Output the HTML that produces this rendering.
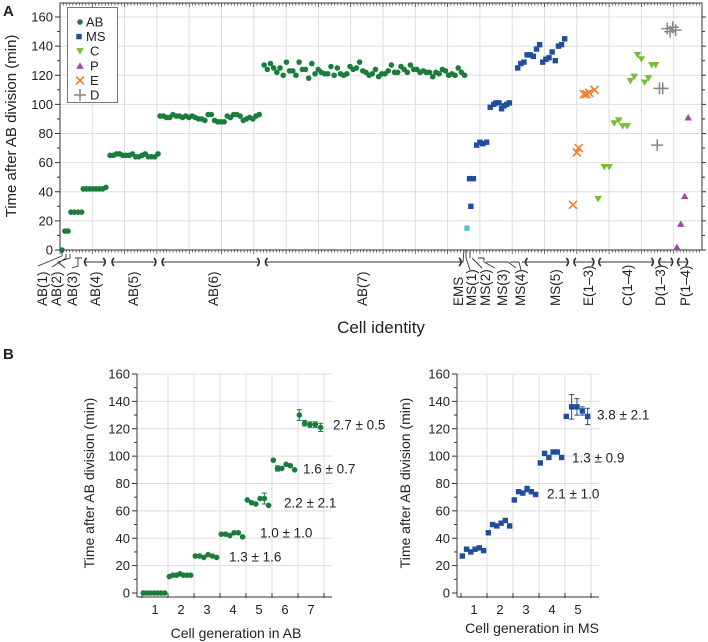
<!DOCTYPE html>
<html><head><meta charset="utf-8"><style>
body{margin:0;background:#fff;}
svg{display:block;font-family:"Liberation Sans",Arial,sans-serif;}
</style></head><body>
<svg id="fig" width="708" height="642" viewBox="0 0 708 642" xmlns="http://www.w3.org/2000/svg"></svg>
<script>
// ===== Panel A data (x = cell index position along axis, y = minutes) =====
const abX=[0.6,1.5,2.5,3.4,4.5,5.6,6.7];
const abY=[0,13,13,26,26,26,26];
const ab4=[42,42,42,42,42,42,42,43];
const ab5=[65,65,66,66,65,65,65,66,64,64,65,66,64,64,64,66];
const ab6=[92,92,91,91,93,92,92,91,92,91,92,91,90,90,89,93,93,89,88,88,88,92,91,93,93,92,89,90,91,90,92,93];
const ab7=[127,124,128,125,122,125,120,129,123,123,120,129,124,124,118,128,121,124,122,121,121,126,120,125,121,120,121,126,124,125,129,123,122,120,121,124,119,121,121,123,127,122,122,126,124,122,127,124,124,122,123,122,122,119,122,121,124,123,120,121,120,125,122,120];
const msX=[126.7,127.9,128.9,129.9,130.8,132.0,133.1,134.2,134.9,135.8,136.6,137.4,138.2,139.0,139.8,140.6];
const msY=[49,49,72,74,73,74,98,100,101,101,97,99,100,101,124,127];
const ms5=[125,128,129,134,134,133,138,141,129,131,132,136,130,140,141,145];
const emsX=[126.0]; const emsY=[15];
const eX=[158.8,160.0,160.6,162.2,163.0,163.8,165.5]; const eY=[31,67,70,107,107,108,110];
const cX=[166.6,168.5,170.0,171.6,173.0,174.2,175.6,176.6,177.8,178.8,180.0,181.0,182.2,183.2,184.4];
const cY=[35,57,57,87,89,85,85,116,119,134,131,115,118,127,127];
const dX=[184.9,185.6,186.6,188.0,188.9,189.7,190.6]; const dY=[72,111,111,152,150,153,151];
const pX=[191.0,192.2,193.4,194.5]; const pY=[2,18,37,91];
const yTicksA=[0,20,40,60,80,100,120,140,160];
const legendNames=["AB","MS","C","P","E","D"];
const groupNames=["AB(1)","AB(2)","AB(3)","AB(4)","AB(5)","AB(6)","AB(7)","EMS","MS(1)","MS(2)","MS(3)","MS(4)","MS(5)","E(1\u20133)","C(1\u20134)","D(1\u20133)","P(1\u20134)"];
const groupStart=[null,null,null,7.0,15.5,31.0,63.0,null,null,null,null,null,143.5,158.5,166.2,184.8,190.6];
const groupEnd=[null,null,null,14.6,30.3,62.3,124.8,null,null,null,null,null,158.0,165.9,184.3,190.3,194.9];
// ===== Panel B data =====
const genLabels=[1,2,3,4,5,6,7];
const bAB=[[0,0,0,0,0,0,0],[12,13,13,14,13,13,13],[27,27,26,28,27,26],[43,43,42,44,44,41],[68,66,65,69,69,64],[97,91,91,94,93,90],[130,124,123,123,121]];
const bABerr=[[0,0,0,0,0,0,0],[0,0,0,0,0,0,0],[0,0,0,0,0,0],[0,0,0,0,0,0],[0,0,0,0,4,0],[0,2,0,0,0,0],[4,2,2,2,3]];
const bABtxt=["","","1.3 \u00b1 1.6","1.0 \u00b1 1.0","2.2 \u00b1 2.1","1.6 \u00b1 0.7","2.7 \u00b1 0.5"];
const genMS=[1,2,3,4,5];
const bMS=[[27,32,30,32,33,31],[44,50,49,51,53,49],[68,74,73,76,74,72],[95,102,99,103,103,99],[129,136,136,133,129]];
const bMSerr=[[0,0,0,0,0,0],[0,0,0,0,0,0],[0,0,0,2,0,0],[0,0,0,0,0,0],[0,9,6,3,6]];
const bMStxt=["","","2.1 \u00b1 1.0","1.3 \u00b1 0.9","3.8 \u00b1 2.1"];
const yTicksB=[0,20,40,60,80,100,120,140,160];

const NS="http://www.w3.org/2000/svg";
const svg=document.getElementById('fig');
function mk(tag,attrs,parent,text){const e=document.createElementNS(NS,tag);for(const k in attrs)e.setAttribute(k,attrs[k]);if(text!==undefined)e.textContent=text;(parent||svg).appendChild(e);return e;}
const GREEN="#1b7d3c",BLUE="#1f4e9e",LBLUE="#5cc2d2",LGREEN="#78bd34",PURPLE="#a04ca4",ORANGE="#ef7f2a",GREY="#888";

// ---------- Panel A ----------
const ax={l:60,r:702,t:3,b:250};
const xA=i=>ax.l+3.23*i;
const yA=v=>ax.b-v*233/160;
const gA=mk('g',{});


for(let k=1;k<20;k++){const x=xA(k*10);if(x<ax.r)mk('line',{x1:x,x2:x,y1:ax.t,y2:ax.b,stroke:"#ddd","stroke-width":1},gA);}
yTicksA.forEach(v=>{if(v>0)mk('line',{x1:ax.l,x2:ax.r,y1:yA(v),y2:yA(v),stroke:"#ddd","stroke-width":1},gA);
 const t=mk('text',{x:ax.l-7,y:yA(v)+4.5,"text-anchor":"end","font-size":13,fill:"#222"},gA,v);
 
 mk('line',{x1:ax.l-5,x2:ax.l,y1:yA(v),y2:yA(v),stroke:"#333"},gA);
 mk('line',{x1:ax.r,x2:ax.r+4,y1:yA(v),y2:yA(v),stroke:"#333"},gA);});
for(let v=10;v<170;v+=20){mk('line',{x1:ax.l-3,x2:ax.l,y1:yA(v),y2:yA(v),stroke:"#333"},gA);mk('line',{x1:ax.r,x2:ax.r+3,y1:yA(v),y2:yA(v),stroke:"#333"},gA);}
for(let i=0;i<199;i++){const x=xA(i);mk('line',{x1:x,x2:x,y1:ax.b,y2:ax.b+(i%10==0?4:2.5),stroke:"#333","stroke-width":0.7},gA);mk('line',{x1:x,x2:x,y1:ax.t,y2:ax.t+(i%10==0?4:2.5),stroke:"#333","stroke-width":0.7},gA);}
mk('rect',{x:ax.l,y:ax.t,width:ax.r-ax.l,height:ax.b-ax.t,fill:"none",stroke:"#333","stroke-width":1},gA);

function dot(x,y,c,g,name){const e=mk('circle',{cx:x,cy:y,r:2.8,fill:c},g);}
function sq(x,y,c,g,name){const e=mk('rect',{x:x-2.7,y:y-2.7,width:5.4,height:5.4,fill:c},g);}
function tri(x,y,c,down,g,name){const s=3.8;const p=down?`${x-s},${y-s*0.8} ${x+s},${y-s*0.8} ${x},${y+s*0.9}`:`${x-s},${y+s*0.8} ${x+s},${y+s*0.8} ${x},${y-s*0.9}`;const e=mk('polygon',{points:p,fill:c},g);}
function cross(x,y,c,g,name){const s=4;const e=mk('path',{d:`M${x-s} ${y-s}L${x+s} ${y+s}M${x+s} ${y-s}L${x-s} ${y+s}`,stroke:c,"stroke-width":1.6,fill:"none"},g);}
function plus(x,y,c,g,name){const s=6;const e=mk('path',{d:`M${x-s} ${y}L${x+s} ${y}M${x} ${y-s}L${x} ${y+s}`,stroke:c,"stroke-width":1.5,fill:"none"},g);}

abX.forEach((x,i)=>dot(xA(x),yA(abY[i]),GREEN,gA,'ab-point'));
ab4.forEach((v,i)=>dot(xA(7.2+i*1.0),yA(v),GREEN,gA,'ab-point'));
ab5.forEach((v,i)=>dot(xA(15.5+i*0.99),yA(v),GREEN,gA,'ab-point'));
ab6.forEach((v,i)=>dot(xA(31.0+i*0.99),yA(v),GREEN,gA,'ab-point'));
ab7.forEach((v,i)=>dot(xA(63.2+i*0.985),yA(v),GREEN,gA,'ab-point'));
emsX.forEach((x,i)=>sq(xA(x),yA(emsY[i]),LBLUE,gA,'ems-point'));
sq(xA(127.2),yA(30),BLUE,gA,'ms-point');
msX.slice(0,14).forEach((x,i)=>sq(xA(x+0.1),yA(msY[i]),BLUE,gA,'ms-point'));
ms5.forEach((v,i)=>sq(xA(141.7+i*0.97),yA(v),BLUE,gA,'ms-point'));
eX.forEach((x,i)=>cross(xA(x),yA(eY[i]),ORANGE,gA,'e-point'));
cX.forEach((x,i)=>tri(xA(x),yA(cY[i]),LGREEN,true,gA,'c-point'));
dX.forEach((x,i)=>plus(xA(x),yA(dY[i]),GREY,gA,'d-point'));
pX.forEach((x,i)=>tri(xA(x),yA(pY[i]),PURPLE,false,gA,'p-point'));

// legend
const lg=mk('g',{});

mk('rect',{x:67.5,y:7.5,width:50,height:95,fill:"#fff",stroke:"#777"},lg);
legendNames.forEach((n,i)=>{const y=22+i*14.6;const x=80;
 if(i==0)dot(x,y,GREEN,lg,'legend-marker');if(i==1)sq(x-1,y,BLUE,lg,'legend-marker');
 if(i==2)tri(x,y,LGREEN,true,lg,'legend-marker');if(i==3)tri(x,y,PURPLE,false,lg,'legend-marker');
 if(i==4)cross(x,y,ORANGE,lg,'legend-marker');if(i==5)plus(x,y,GREY,lg,'legend-marker');
 const t=mk('text',{x:i<2?86:90,y:y+4.5,"font-size":13,fill:"#222"},lg,n);
 });

// group brackets & labels
groupNames.forEach((n,i)=>{
 const lx=[42,56,72,95,133,213,362,458,471,485,502,520,555,588,627,660,685][i];
 const t=mk('text',{x:lx+5,y:306,"font-size":13.5,fill:"#222",transform:`rotate(-90 ${lx+5} 306)`},gA,n);
 
 if(groupStart[i]!==null){const a=xA(groupStart[i]),b=xA(groupEnd[i]);
  mk('line',{x1:a+3,x2:b-3,y1:262,y2:262,stroke:"#333","stroke-width":1},gA);
  mk('path',{d:`M${a+4} 258 Q${a} 262 ${a+4} 266M${b-4} 258 Q${b} 262 ${b-4} 266`,stroke:"#333","stroke-width":1.6,fill:"none"},gA);}
});
mk('path',{d:"M62 250 L62 256 L38 266 M66 254 L66 258 L52 267 M70 254 L70 258 L58 262 L65 268 M75 258 L82 258 M78 258 L78 266 L72 268",stroke:"#333",fill:"none","stroke-width":0.9},gA);
mk('path',{d:"M455 262 L463 262 L464 250 M466 250 L466 258 L470 270 M470 250 L470 258 M472 258 L476 262 L482 268 M478 258 L484 258 L484 262 L495 268 M486 262 L500 262 M500 262 L508 262 L516 268 M510 262 L519 262 L521 270 M522 262 L560 262",stroke:"#333",fill:"none","stroke-width":0.9},gA);

let t;
t=mk('text',{x:16,y:126,"font-size":15,fill:"#222","text-anchor":"middle",transform:"rotate(-90 16 126)"},gA,"Time after AB division (min)");

t=mk('text',{x:381,y:333,"font-size":17,fill:"#222","text-anchor":"middle"},gA,"Cell identity");

t=mk('text',{x:3,y:16,"font-size":15,"font-weight":"bold",fill:"#222"},svg,"A");

t=mk('text',{x:3,y:359,"font-size":15,"font-weight":"bold",fill:"#222"},svg,"B");


// ---------- Panel B ----------
function panelB(name,L,gens,data,errs,txts,color,marker,xlabel,ylabx,xlabx,xlaby,txtPos){
 const g=mk('g',{});
 
 const gw=26;const yb=v=>593-v*219/160;const xb=gen=>L.c1+(gen-1)*gw;
 const right=xb(gens.length)+gw/2+8;
 yTicksB.forEach(v=>{if(v>0)mk('line',{x1:L.ax,x2:right,y1:yb(v),y2:yb(v),stroke:"#ddd"},g);
  mk('line',{x1:L.ax-5,x2:L.ax,y1:yb(v),y2:yb(v),stroke:"#333"},g);
  const tt=mk('text',{x:L.ax-7,y:yb(v)+4.5,"text-anchor":"end","font-size":13,fill:"#222"},g,v);
  });
 for(let v=10;v<160;v+=20)mk('line',{x1:L.ax-3,x2:L.ax,y1:yb(v),y2:yb(v),stroke:"#333"},g);
 for(let k=0;k<=gens.length;k++){const x=xb(1)-gw/2+k*gw;if(k>0)mk('line',{x1:x,x2:x,y1:374,y2:593,stroke:"#ddd"},g);mk('line',{x1:x,x2:x,y1:593,y2:598,stroke:"#333"},g);}
 mk('line',{x1:L.ax,x2:L.ax,y1:374,y2:597,stroke:"#333"},g);
 mk('line',{x1:L.ax,x2:right,y1:597,y2:597,stroke:"#333"},g);
 gens.forEach((gen,gi)=>{
  const tt=mk('text',{x:xb(gen),y:614,"text-anchor":"middle","font-size":13,fill:"#222"},g,gen);
  
  const vals=data[gi];const n=vals.length;
  vals.forEach((v,j)=>{const x=xb(gen)-gw*0.45+j*(gw*0.82/(n-1||1));const y=yb(v);
   const e=errs[gi][j];if(e>0){const ep=e*219/160;mk('path',{d:`M${x} ${y-ep}L${x} ${y+ep}M${x-2.5} ${y-ep}L${x+2.5} ${y-ep}M${x-2.5} ${y+ep}L${x+2.5} ${y+ep}`,stroke:color,fill:"none"},g);}
   if(marker=='dot')dot(x,y,color,g,'data-point');else sq(x,y,color,g,'data-point');});
  if(txts[gi]){const tt=mk('text',{x:txtPos[gi][0],y:txtPos[gi][1]+4.5,"font-size":13.5,fill:"#222"},g,txts[gi]);
   }
 });
 let a=mk('text',{x:ylabx,y:483,"font-size":14,fill:"#222","text-anchor":"middle",transform:`rotate(-90 ${ylabx} 483)`},g,"Time after AB division (min)");
 
 a=mk('text',{x:xlabx,y:xlaby,"font-size":14,fill:"#222","text-anchor":"middle"},g,xlabel);
 
}
panelB('panel-b-ab',{ax:137,c1:155},genLabels,bAB,bABerr,bABtxt,GREEN,'dot',"Cell generation in AB",94,236,638,
 [null,null,[229,557],[260,533],[284,503],[303,469],[333,425]]);
panelB('panel-b-ms',{ax:457,c1:474},genMS,bMS,bMSerr,bMStxt,BLUE,'sq',"Cell generation in MS",410,532,633,
 [null,null,[547,494],[572,458],[597,415]]);
</script>
</body></html>
